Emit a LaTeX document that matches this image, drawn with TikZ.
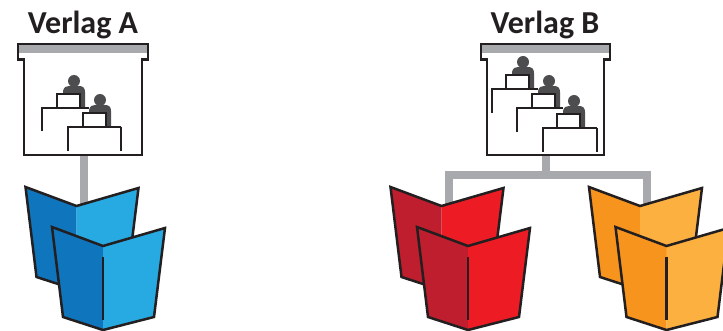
\documentclass[tikz,border=0pt]{standalone}
\usepackage{fontspec}
\setmainfont{Carlito}
\definecolor{ink}{HTML}{231F20}
\definecolor{conn}{HTML}{A7A9AC}
\definecolor{figure}{HTML}{4D4D4F}
\definecolor{blueD}{HTML}{0F75BC}
\definecolor{blueL}{HTML}{27AAE1}
\definecolor{redD}{HTML}{BE1E2D}
\definecolor{redL}{HTML}{ED1C24}
\definecolor{orangeD}{HTML}{F7941E}
\definecolor{orangeL}{HTML}{FBB040}
\tikzset{
  outline/.style={draw=ink,line width=2.5pt,line join=miter},
  connector/.style={draw=conn,line width=7.5pt,line join=miter},
  desk/.style={draw=ink,line width=2.4pt},
  title/.style={font=\bfseries\fontsize{32}{36}\selectfont,text=ink,inner sep=0pt,anchor=base},
  anchorbox/.style={inner sep=0pt,minimum width=#1,minimum height=1pt}
}
% single book: origin at centre notch
\newcommand{\onebook}[4]{%
  \begin{scope}[shift={(#1,#2)}]
    \fill[#3] (-51,-19) -- (0,0) -- (0,84) -- (-40,71) -- cycle;
    \fill[#4] (0,0) -- (62,-18) -- (51,71) -- (0,84) -- cycle;
    \draw[outline] (-51,-19) -- (0,0) -- (62,-18) -- (51,71) -- (0,84) -- (-40,71) -- cycle;
  \end{scope}}
% back and front book pair; #1,#2 = front notch
\newcommand{\bookpair}[4]{%
  \onebook{#1-26.5}{#2-40}{#3}{#4}
  \onebook{#1}{#2}{#3}{#4}
  \draw[ink,line width=2.4pt] (#1,#2+11) -- (#1,#2+74);}
% screen: left x, right x
\newcommand{\screen}[2]{%
  \fill[conn] (#1,44) rectangle (#2,53);
  \draw[outline] (#1,44) -- (#2,44) -- (#2,59.5) -- (#2-6,59.5) -- (#2-6,155) -- (#1+6,155) -- (#1+6,59.5) -- (#1,59.5) -- cycle;}
% person at desk: head x,y; desk left, desk right offsets; drop of left and right leg
\newcommand{\person}[6]{%
  \begin{scope}[shift={(#1,#2)}]
    \fill[figure] (0,0) circle (6);
    \fill[figure] (-11,13) -- (-11,10) .. controls (-10,6) and (-8,5) .. (-5,5) -- (5,5) .. controls (9,5) and (11,7) .. (11,11) -- (11,27) -- (-11,27) -- cycle;
    \draw[desk,fill=white] (-17,26) -- (-17,13) -- (6,13) -- (6,26);
    \draw[desk] (#3,27+#5) -- (#3,27) -- (#4,27);
    \ifnum#6>0 \draw[desk] (#4,27) -- (#4,27+#6);\fi
  \end{scope}}
\begin{document}
\begin{tikzpicture}[x=1pt,y=-1pt]
\clip (0,0) rectangle (723,331);
\fill[white] (0,0) rectangle (723,331);
% anchors
\node[anchorbox=1pt] (screenA) at (84,155) {};
\node[anchorbox=1pt] (screenB) at (546,155) {};
\coordinate (bookA) at (84,206);
\coordinate (junction) at (546,175);
\coordinate (bookR) at (449,206);
\coordinate (bookO) at (647,206);
% connectors
\draw[connector] (screenA) -- (bookA);
\draw[connector] (screenB) -- (junction);
\draw[connector] (bookR) |- (junction) -| (bookO);
% titles
\node[title] (titleA) at (83,34) {Verlag A};
\node[title] (titleB) at (545,34) {Verlag B};
% screen A
\screen{18}{148}
\person{74}{81}{-32}{15}{23}{0}
\person{100}{100}{-32}{21}{24}{24}
% screen B
\screen{481}{610}
\person{523}{62}{-31}{15}{24}{0}
\person{549}{81}{-32}{14}{24}{0}
\person{574}{101}{-31}{23}{24}{24}
% books
\bookpair{103}{246}{blueD}{blueL}
\bookpair{468}{246}{redD}{redL}
\bookpair{666.5}{246}{orangeD}{orangeL}
\end{tikzpicture}
\end{document}
